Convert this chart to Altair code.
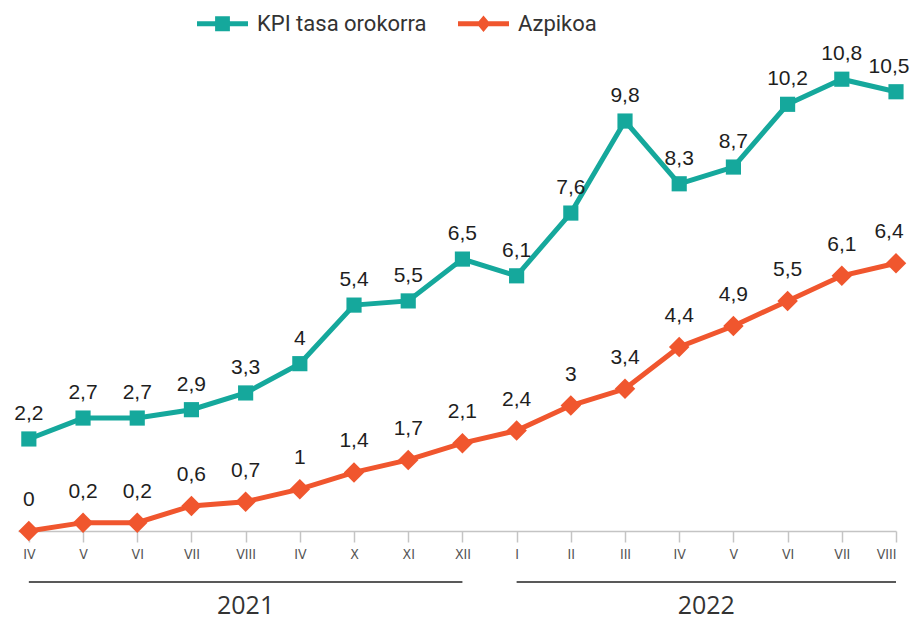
import json
import altair as alt
import pandas as pd

months = ["IV", "V", "VI", "VII", "VIII", "IV", "X", "XI", "XII",
          "I", "II", "III", "IV", "V", "VI", "VII", "VIII"]
kpi = [2.2, 2.7, 2.7, 2.9, 3.3, 4, 5.4, 5.5, 6.5, 6.1, 7.6, 9.8, 8.3, 8.7, 10.2, 10.8, 10.5]
azpikoa = [0, 0.2, 0.2, 0.6, 0.7, 1, 1.4, 1.7, 2.1, 2.4, 3, 3.4, 4.4, 4.9, 5.5, 6.1, 6.4]
series_names = ["KPI tasa orokorra", "Azpikoa"]
series_colors = ["#15a89c", "#f0562e"]
years = ["2021", "2022"]
year_start = [0, 9]
year_end = [8, 16]

rows = []
for name, vals in zip(series_names, [kpi, azpikoa]):
    for i, (m, v) in enumerate(zip(months, vals)):
        rows.append({"idx": i, "month": m, "series": name, "value": v,
                     "label": (f"{v:g}").replace(".", ",")})
df = pd.DataFrame(rows)
ydf = pd.DataFrame({"year": years, "start": year_start, "end": year_end})
ydf["mid"] = (ydf["start"] + ydf["end"]) / 2
last_idx = len(months) - 1

xscale = alt.Scale(domain=[-0.2, 16], nice=False, zero=False)
label_expr = json.dumps(months) + "[datum.value]"
xaxis = alt.Axis(values=list(range(len(months))), labelExpr=label_expr, title=None,
                 grid=False, domainColor="#c4c4c4", domainWidth=1.5,
                 tickColor="#c4c4c4", tickWidth=1.5, tickSize=11,
                 labelColor="#555555", labelFont="Liberation Sans Narrow, DejaVu Sans Condensed, sans-serif",
                 labelFontSize=14, labelPadding=5)
yscale = alt.Scale(domain=[0, 12], nice=False)

base = alt.Chart(df).encode(
    x=alt.X("idx:Q", scale=xscale, axis=xaxis),
    y=alt.Y("value:Q", scale=yscale, axis=None),
)

layers = []
shapes = ["square", "diamond"]
sizes = [230, 420]
label_dy = [-15, -21]
for name, col, shp, sz, dy in zip(series_names, series_colors, shapes, sizes, label_dy):
    sub = base.transform_filter(alt.datum.series == name)
    layers.append(sub.mark_line(color=col, strokeWidth=5))
    layers.append(sub.mark_point(filled=True, opacity=1, color=col, shape=shp, size=sz))
    txt = dict(baseline="bottom", dy=dy, fontSize=21,
               font="Liberation Sans, Arial, sans-serif", color="#1e1e1e")
    layers.append(sub.transform_filter(alt.datum.idx < last_idx)
                  .mark_text(**txt).encode(text="label:N"))
    layers.append(sub.transform_filter(alt.datum.idx == last_idx)
                  .mark_text(dx=-7, **txt).encode(text="label:N"))

kpi_path = "M-1,-0.1H1V0.1H-1Z M-0.29,-0.29H0.29V0.29H-0.29Z"
azp_path = "M-1,-0.1H1V0.1H-1Z M0,-0.32L0.27,0L0,0.32L-0.27,0Z"
legend = alt.Legend(orient="none", legendX=179, legendY=-31, direction="horizontal",
                    title=None, symbolSize=2601, symbolOpacity=1, symbolStrokeWidth=0,
                    labelFont="Roboto", labelFontSize=22, labelColor="#333333",
                    labelOffset=9, columnPadding=31, labelLimit=400)
legend_layer = base.mark_point(filled=True, opacity=0).encode(
    color=alt.Color("series:N", scale=alt.Scale(domain=series_names, range=series_colors),
                    legend=legend),
    shape=alt.Shape("series:N", scale=alt.Scale(domain=series_names, range=[kpi_path, azp_path]),
                    legend=legend),
)
layers.append(legend_layer)

yrule = alt.Chart(ydf).mark_rule(color="#222222", strokeWidth=1.5).encode(
    x=alt.X("start:Q", scale=xscale), x2="end:Q", y=alt.value(553))
ytext = alt.Chart(ydf).mark_text(fontSize=25, font="Open Sans, sans-serif", color="#333333",
                                 baseline="alphabetic").encode(
    x=alt.X("mid:Q", scale=xscale), y=alt.value(585), text="year:N")
layers += [yrule, ytext]

chart = alt.layer(*layers).properties(
    width=878, height=502,
    autosize=alt.AutoSizeParams(type="none"),
    padding={"left": 10, "top": 21, "right": 17, "bottom": 90},
).configure_view(stroke=None)

chart.save("out.html", embed_options={"renderer": "svg", "actions": False})
